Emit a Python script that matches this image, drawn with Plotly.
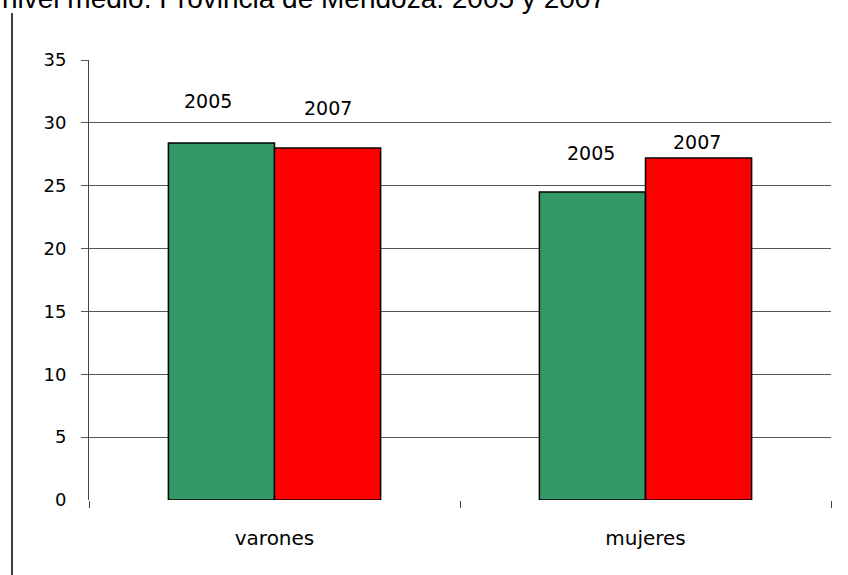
import plotly.graph_objects as go

# data
categories = ["varones", "mujeres"]
years = ["2005", "2007"]
values_2005 = [28.4, 24.5]
values_2007 = [28.0, 27.2]
bar_colors = {"2005": "#339966", "2007": "#FF0000"}

# hand-placed year labels in the source chart (category offset, height)
label_dx = {"2005": [-0.178, -0.148], "2007": [0.143, 0.140]}
label_y = {"2005": [31.76, 27.6], "2007": [31.18, 28.48]}

title_text = "nivel medio. Provincia de Mendoza. 2005 y 2007"

W, H = 848, 575
ml, mr, mt, mb = 89, 17, 60, 75
pw, ph = W - ml - mr, H - mt - mb

fig = go.Figure()
for yr, vals in zip(years, [values_2005, values_2007]):
    fig.add_trace(go.Bar(
        x=categories,
        y=vals,
        name=yr,
        marker=dict(color=bar_colors[yr], line=dict(color="black", width=1.5)),
        hoverinfo="y",
    ))

# year labels above the bars
for yr in years:
    for i, cat in enumerate(categories):
        fig.add_annotation(
            x=i + label_dx[yr][i], y=label_y[yr][i],
            xref="x", yref="y",
            text=yr, showarrow=False,
            font=dict(family="DejaVu Sans", size=19, color="black"),
        )

# title, cut off at the top edge as in the source picture
fig.add_annotation(
    x=-ml / pw, y=(ph + mt + 1) / ph,
    xref="paper", yref="paper",
    xanchor="left", yanchor="middle",
    text=title_text, showarrow=False,
    font=dict(family="Liberation Sans, Arial", size=28, color="black"),
)

# left frame line of the original page
fig.add_shape(
    type="line", xref="paper", yref="paper",
    x0=(12 - ml) / pw, x1=(12 - ml) / pw,
    y0=(ph + mt - 13) / ph, y1=-mb / ph - 0.05,
    line=dict(color="black", width=1.5),
)

# the source has no tick mark at 0 on the value axis
fig.add_shape(
    type="line", xref="paper", yref="paper",
    x0=-10 / pw, x1=-1 / pw, y0=0, y1=0,
    line=dict(color="white", width=3),
)

fig.update_layout(
    width=W, height=H,
    margin=dict(l=ml, r=mr, t=mt, b=mb),
    paper_bgcolor="white",
    plot_bgcolor="white",
    barmode="group",
    bargap=0.428,
    bargroupgap=0,
    showlegend=False,
    xaxis=dict(
        showline=False,
        showgrid=False,
        ticks="outside",
        tickson="boundaries",
        ticklen=7,
        tickcolor="#444",
        tickwidth=1,
        ticklabelstandoff=24,
        tickfont=dict(family="DejaVu Sans", size=20, color="black"),
    ),
    yaxis=dict(
        range=[0, 35],
        dtick=5,
        showline=True,
        linecolor="#444",
        linewidth=1,
        showgrid=True,
        gridcolor="#555",
        gridwidth=1.3,
        zeroline=True,
        zerolinecolor="white",
        zerolinewidth=2,
        ticks="outside",
        ticklen=7,
        tickcolor="#555",
        tickwidth=1.3,
        ticklabelstandoff=11,
        tickfont=dict(family="DejaVu Sans", size=18, color="black"),
    ),
)

# drop the page's default body margin so the chart sits at the window corner
fig.write_html(
    "out.html",
    config={"displayModeBar": False},
    post_script="document.body.style.margin='0';",
)
